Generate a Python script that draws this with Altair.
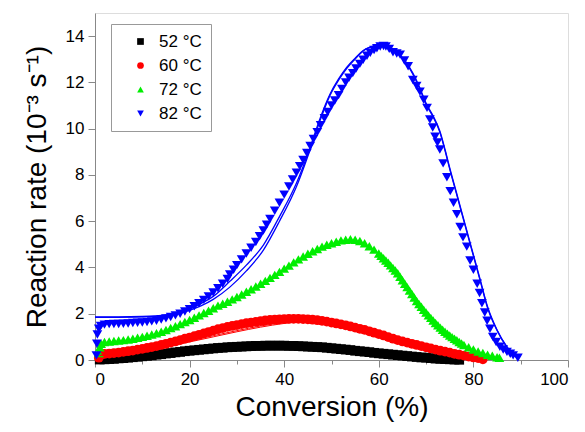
import altair as alt
import pandas as pd

series_names = ["52 °C", "60 °C", "72 °C", "82 °C"]
series_colors = ["#000000", "#ff0000", "#00ee00", "#0000ff"]
series_shapes = ["square", "circle", "triangle-up", "triangle-down"]

# measured points (conversion %, rate 1e-3 s^-1)
x52 = [1, 2, 3, 4, 5, 6, 7, 8, 9, 10, 11, 12, 13, 14, 15, 16, 17, 18, 19, 20, 21, 22, 23,
       24, 25, 26, 27, 28, 29, 30, 31, 32, 33, 34, 35, 36, 37, 38, 39, 40, 41, 42, 43, 44,
       45, 46, 47, 48, 49, 50, 51, 52, 53, 54, 55, 56, 57, 58, 59, 60, 61, 62, 63, 64, 65,
       66, 67, 68, 69, 70, 71, 72, 73, 74, 75, 76, 77]
y52 = [0.02, 0.03, 0.04, 0.05, 0.07, 0.08, 0.10, 0.12, 0.14, 0.16, 0.18, 0.20, 0.23, 0.25,
       0.28, 0.30, 0.33, 0.35, 0.38, 0.40, 0.42, 0.44, 0.46, 0.48, 0.50, 0.52, 0.53, 0.55,
       0.56, 0.57, 0.58, 0.59, 0.60, 0.61, 0.61, 0.62, 0.62, 0.62, 0.62, 0.62, 0.61, 0.61,
       0.60, 0.59, 0.58, 0.57, 0.56, 0.55, 0.53, 0.51, 0.49, 0.47, 0.45, 0.43, 0.40, 0.38,
       0.36, 0.34, 0.31, 0.29, 0.27, 0.25, 0.23, 0.21, 0.19, 0.17, 0.15, 0.13, 0.11, 0.10,
       0.08, 0.06, 0.05, 0.04, 0.03, 0.02, 0.01]

x60 = [0.8, 1, 1.5, 2, 3, 4, 5, 6, 7, 8, 9, 10, 11, 12, 13, 14, 15, 16, 17, 18, 19, 20, 21,
       22, 23, 24, 25, 26, 27, 28, 29, 30, 31, 32, 33, 34, 35, 36, 37, 38, 39, 40, 41, 42,
       43, 44, 45, 46, 47, 48, 49, 50, 51, 52, 53, 54, 55, 56, 57, 58, 59, 60, 61, 62, 63,
       64, 65, 66, 67, 68, 69, 70, 71, 72, 73, 74, 75, 76, 77, 78, 79, 80, 81, 82]
y60 = [0.10, 0.20, 0.25, 0.26, 0.28, 0.30, 0.32, 0.35, 0.38, 0.41, 0.45, 0.48, 0.52, 0.56,
       0.60, 0.65, 0.70, 0.75, 0.80, 0.86, 0.92, 0.97, 1.03, 1.09, 1.15, 1.21, 1.27, 1.33,
       1.38, 1.43, 1.47, 1.51, 1.55, 1.59, 1.62, 1.65, 1.68, 1.71, 1.73, 1.75, 1.76, 1.77,
       1.78, 1.78, 1.78, 1.77, 1.76, 1.74, 1.72, 1.69, 1.66, 1.62, 1.58, 1.54, 1.50, 1.45,
       1.40, 1.35, 1.30, 1.24, 1.18, 1.12, 1.06, 0.99, 0.92, 0.86, 0.80, 0.75, 0.70, 0.65,
       0.60, 0.55, 0.50, 0.45, 0.40, 0.36, 0.32, 0.27, 0.23, 0.19, 0.15, 0.11, 0.08, 0.03]

x72 = [0.8, 1.0, 1.3, 2, 3, 4, 5, 6, 7, 8, 9, 10, 11, 12, 13, 14, 15, 16, 17, 18, 19, 20,
       21, 22, 23, 24, 25, 26, 27, 28, 29, 30, 31, 32, 33, 34, 35, 36, 37, 38, 39, 40, 41,
       42, 43, 44, 45, 46, 47, 48, 49, 50, 51, 52, 53, 54, 55, 56, 57, 58, 59, 60, 60.5, 61,
       61.5, 62, 62.5, 63, 63.5, 64, 64.5, 65, 65.5, 66, 66.5, 67, 67.5, 68, 68.5, 69, 69.5,
       70, 70.5, 71, 71.5, 72, 72.5, 73, 73.5, 74, 74.5, 75, 75.5, 76, 76.5, 77, 77.5, 78,
       79, 80, 81, 82, 83, 84, 85, 85.5]
y72 = [0.30, 0.55, 0.70, 0.78, 0.80, 0.82, 0.84, 0.86, 0.89, 0.92, 0.96, 1.00, 1.05, 1.10,
       1.16, 1.22, 1.30, 1.38, 1.46, 1.55, 1.64, 1.73, 1.83, 1.93, 2.03, 2.13, 2.24, 2.35,
       2.43, 2.52, 2.62, 2.72, 2.83, 2.95, 3.06, 3.18, 3.30, 3.42, 3.55, 3.68, 3.81, 3.95,
       4.08, 4.22, 4.35, 4.47, 4.59, 4.70, 4.80, 4.90, 4.98, 5.05, 5.11, 5.17, 5.20, 5.22,
       5.20, 5.14, 5.05, 4.92, 4.77, 4.60, 4.50, 4.40, 4.30, 4.20, 4.09, 3.98, 3.87, 3.75,
       3.60, 3.45, 3.30, 3.15, 3.00, 2.85, 2.70, 2.55, 2.42, 2.30, 2.17, 2.05, 1.93, 1.82,
       1.71, 1.60, 1.50, 1.40, 1.31, 1.22, 1.14, 1.06, 0.99, 0.92, 0.85, 0.78, 0.71, 0.65,
       0.55, 0.45, 0.37, 0.30, 0.23, 0.18, 0.12, 0.10]

x82 = [0.3, 0.4, 0.5, 0.8, 1.2, 2, 3, 4, 5, 6, 7, 8, 9, 10, 11, 12, 13, 14, 15, 16, 17, 18,
       19, 20, 21, 22, 23, 24, 25, 26, 27, 28, 28.5, 29.3, 30, 31, 32, 33, 34, 34.8, 35.6,
       36.3, 37, 38, 39, 40, 41, 41.8, 42.6, 43.3, 44, 44.8, 45.5, 46.2, 47, 47.7, 48.5,
       49.2, 50, 50.7, 51.5, 52.2, 53, 53.7, 54.5, 55.2, 56, 56.7, 57.5, 58.2, 59, 59.6,
       60.3, 61, 61.5, 62.2, 63, 63.8, 64.5, 65.4, 66.2, 67.2, 68, 68.7, 69.5, 70.2, 70.8,
       71.4, 71.9, 72.4, 72.9, 73.6, 74.4, 75.1, 75.8, 76.5, 77.2, 77.8, 78.6, 79.3, 80,
       80.8, 81.3, 81.8, 82.4, 82.9, 83.5, 84.1, 84.8, 85.6, 86.3, 87.1, 87.8, 88.4, 89.4]
y82 = [0.2, 0.7, 1.1, 1.35, 1.47, 1.53, 1.55, 1.56, 1.56, 1.57, 1.58, 1.60, 1.61, 1.62,
       1.64, 1.67, 1.70, 1.75, 1.80, 1.86, 1.93, 2.00, 2.10, 2.20, 2.32, 2.45, 2.60, 2.75,
       2.92, 3.10, 3.30, 3.50, 3.70, 3.90, 4.10, 4.35, 4.60, 4.85, 5.10, 5.35, 5.60, 5.85,
       6.10, 6.45, 6.80, 7.15, 7.50, 7.80, 8.10, 8.38, 8.65, 8.95, 9.25, 9.55, 9.85, 10.15,
       10.45, 10.72, 11.00, 11.22, 11.45, 11.72, 12.00, 12.20, 12.40, 12.60, 12.80, 12.98,
       13.15, 13.28, 13.40, 13.48, 13.55, 13.57, 13.55, 13.45, 13.30, 13.25, 13.20, 12.95,
       12.70, 12.10, 11.85, 11.60, 11.25, 10.90, 10.40, 10.05, 9.65, 9.40, 9.10, 8.50, 7.90,
       7.30, 6.80, 6.30, 5.75, 5.30, 4.90, 4.30, 3.90, 3.30, 2.90, 2.45, 2.05, 1.70, 1.35,
       1.00, 0.78, 0.57, 0.45, 0.35, 0.27, 0.20, 0.10]

# fitted curves
fit82a_x = [0, 5, 10, 15, 18, 20, 22.5, 25, 28.5, 32, 35.6, 39, 42.6, 45.5, 47.5, 49.7,
            51.5, 53.2, 55, 56.7, 58, 59.6, 61.7, 63.8, 65.5, 67.2, 68.6, 70, 71.5, 72.9,
            74, 75, 76.4, 77.8, 79.6, 81.4, 83, 85, 87, 88.2, 89.2]
fit82a_y = [1.86, 1.86, 1.88, 1.95, 2.05, 2.20, 2.45, 2.75, 3.40, 4.10, 4.97, 6.20, 7.65,
            9.20, 10.40, 11.50, 12.15, 12.65, 13.05, 13.38, 13.52, 13.60, 13.55, 13.30,
            12.95, 12.40, 11.80, 11.10, 10.55, 9.90, 9.10, 8.30, 7.25, 6.20, 4.85, 3.50,
            2.30, 1.30, 0.60, 0.30, 0.10]
fit82b_x = [0, 5, 10, 15, 18, 20, 22.5, 25, 28.5, 32, 35.6, 39, 42.6, 45.5, 47.5, 49.7,
            51.5, 53.2, 55, 56.7, 58, 59.6, 61.7, 63.8, 65.5, 67.2, 68.6, 70, 71.5, 72.9,
            74, 75, 76.4, 77.8, 79.6, 81.4, 83, 85, 87, 88.2, 89.2]
fit82b_y = [1.84, 1.84, 1.86, 1.93, 2.02, 2.15, 2.35, 2.62, 3.15, 3.85, 4.75, 6.00, 7.50,
            9.10, 10.30, 11.45, 12.10, 12.60, 13.01, 13.36, 13.50, 13.58, 13.53, 13.28,
            12.92, 12.35, 11.75, 11.05, 10.50, 9.85, 9.05, 8.25, 7.20, 6.15, 4.80, 3.45,
            2.25, 1.28, 0.58, 0.29, 0.10]

fit60a_x = [1, 5, 10, 15, 20, 25, 30, 35, 40, 45, 48, 52, 56, 60, 65, 70, 75, 80, 82]
fit60a_y = [0.20, 0.30, 0.42, 0.60, 0.82, 1.05, 1.27, 1.47, 1.62, 1.70, 1.70, 1.62, 1.44,
            1.16, 0.83, 0.55, 0.30, 0.10, 0.02]
fit60b_x = [1, 5, 10, 15, 20, 25, 30, 35, 40, 45, 48, 52, 56, 60, 65, 70, 75, 80, 82]
fit60b_y = [0.19, 0.28, 0.40, 0.57, 0.78, 1.00, 1.22, 1.42, 1.58, 1.67, 1.68, 1.61, 1.43,
            1.15, 0.82, 0.54, 0.29, 0.10, 0.02]

marker_x = [x52, x60, x72, x82]
marker_y = [y52, y60, y72, y82]

rows = []
for name, xs, ys in zip(series_names, marker_x, marker_y):
    for xv, yv in zip(xs, ys):
        rows.append({"x": xv, "y": yv, "series": name})
points_df = pd.DataFrame(rows)

fits = [
    ("82a", fit82a_x, fit82a_y, "#0000ff", 1.3),
    ("82b", fit82b_x, fit82b_y, "#0000ff", 1.3),
    ("60a", fit60a_x, fit60a_y, "#ff0000", 1.0),
    ("60b", fit60b_x, fit60b_y, "#ff0000", 1.0),
]

xscale = alt.Scale(domain=[0, 100], nice=False, zero=False)
yscale = alt.Scale(domain=[0, 15], nice=False, zero=False)

xaxis = alt.Axis(
    title="Conversion (%)",
    values=list(range(0, 101, 10)),
    labelExpr="datum.value % 20 === 0 ? datum.label : ''",
    tickSize={"condition": {"test": "datum.value % 20 === 0", "value": 7}, "value": 4},
    grid=False,
    labelFontSize=17,
    labelPadding=4,
    titleFontSize=28,
    titlePadding=6,
    titleFontWeight="normal",
)
yaxis = alt.Axis(
    title="Reaction rate (10⁻³ s⁻¹)",
    values=list(range(0, 16)),
    labelExpr="datum.value % 2 === 0 ? datum.label : ''",
    tickSize={"condition": {"test": "datum.value % 2 === 0", "value": 7}, "value": 4},
    grid=False,
    labelFontSize=17,
    labelPadding=4,
    titleFontSize=28,
    titlePadding=14,
    titleFontWeight="normal",
)

legend_opts = dict(title=None, orient="none", legendX=16, legendY=11,
                   strokeColor="#999999", padding=9, symbolOffset=12,
                   labelFontSize=17, labelOffset=10, rowPadding=6,
                   symbolSize=45, fillColor="white")

points = alt.Chart(points_df).mark_point(filled=True, opacity=1, size=95).encode(
    x=alt.X("x:Q", scale=xscale, axis=xaxis),
    y=alt.Y("y:Q", scale=yscale, axis=yaxis),
    color=alt.Color("series:N", scale=alt.Scale(domain=series_names, range=series_colors),
                    legend=alt.Legend(**legend_opts)),
    shape=alt.Shape("series:N", scale=alt.Scale(domain=series_names, range=series_shapes),
                    legend=alt.Legend(**legend_opts)),
)

layers = [points]
for fid, fx, fy, col, sw in fits:
    df = pd.DataFrame({"x": fx, "y": fy})
    layers.append(
        alt.Chart(df).mark_line(color=col, strokeWidth=sw, interpolate="monotone").encode(
            x=alt.X("x:Q", scale=xscale),
            y=alt.Y("y:Q", scale=yscale),
        )
    )

chart = alt.layer(*layers).properties(
    width=473,
    height=347,
    autosize=alt.AutoSizeParams(type="none"),
    padding={"left": 87, "top": 5, "right": 9, "bottom": 64},
).configure_view(
    stroke="#aaaaaa", strokeWidth=1
).configure_axis(
    domainColor="#000000", tickColor="#000000", labelColor="#000000", titleColor="#000000",
    labelFont="Liberation Sans", titleFont="Liberation Sans", domainWidth=1, tickWidth=1,
).configure_legend(
    labelFont="Liberation Sans", labelColor="#000000"
).configure(background="white")

chart.save("out.html", embed_options={"renderer": "svg", "actions": False})
